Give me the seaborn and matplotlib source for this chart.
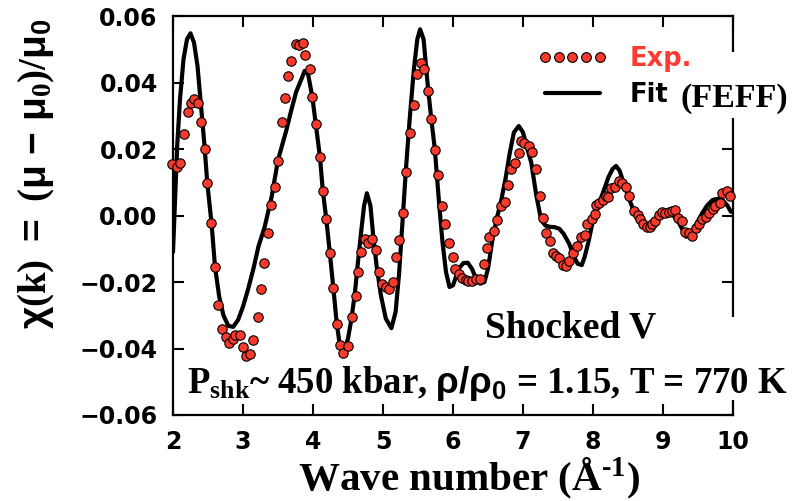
import matplotlib
matplotlib.use("Agg")
import numpy as np
import pandas as pd
import seaborn as sns
import matplotlib.pyplot as plt
from matplotlib.lines import Line2D
from matplotlib.patches import Rectangle

# ---- data ----
exp_k = [1.99, 2.05, 2.10, 2.16, 2.21, 2.26, 2.30, 2.35, 2.40, 2.45, 2.49, 2.55, 2.60, 2.65,
         2.70, 2.75, 2.80, 2.85, 2.89, 2.96, 3.00, 3.05, 3.10, 3.15, 3.21, 3.25, 3.30, 3.35,
         3.40, 3.45, 3.50, 3.55, 3.60, 3.64, 3.69, 3.75, 3.80, 3.85, 3.89, 3.95, 3.99, 4.04,
         4.10, 4.14, 4.19, 4.24, 4.29, 4.34, 4.38, 4.43, 4.50, 4.55, 4.61, 4.64, 4.69, 4.74,
         4.79, 4.84, 4.90, 4.94, 4.99, 5.04, 5.09, 5.14, 5.19, 5.23, 5.29, 5.33, 5.38, 5.44,
         5.49, 5.54, 5.59, 5.64, 5.69, 5.74, 5.78, 5.84, 5.89, 5.94, 6.00, 6.03, 6.08, 6.13,
         6.18, 6.22, 6.27, 6.33, 6.39, 6.44, 6.49, 6.52, 6.58, 6.63, 6.68, 6.74, 6.79, 6.83,
         6.88, 6.94, 6.97, 7.02, 7.08, 7.13, 7.19, 7.24, 7.28, 7.33, 7.38, 7.43, 7.47, 7.52,
         7.57, 7.62, 7.66, 7.71, 7.77, 7.83, 7.88, 7.91, 7.99, 8.03, 8.05, 8.09, 8.14, 8.19,
         8.22, 8.26, 8.31, 8.37, 8.42, 8.47, 8.52, 8.59, 8.64, 8.67, 8.72, 8.77, 8.81, 8.85,
         8.89, 8.94, 8.98, 9.03, 9.08, 9.13, 9.17, 9.22, 9.27, 9.31, 9.37, 9.42, 9.47, 9.51,
         9.56, 9.61, 9.66, 9.71, 9.75, 9.81, 9.85, 9.91, 9.96]
exp_chi = [0.0155, 0.0147, 0.0159, 0.0244, 0.0312, 0.0339, 0.0349, 0.0337, 0.0282, 0.0200,
           0.0097, -0.0022, -0.0154, -0.0269, -0.0342, -0.0366, -0.0382, -0.0372, -0.0359,
           -0.0359, -0.0395, -0.0423, -0.0417, -0.0374, -0.0304, -0.0222, -0.0143, -0.0052,
           0.0033, 0.0087, 0.0164, 0.0280, 0.0352, 0.0420, 0.0466, 0.0515, 0.0512, 0.0520,
           0.0483, 0.0440, 0.0357, 0.0275, 0.0175, 0.0075, -0.0011, -0.0112, -0.0217, -0.0326,
           -0.0389, -0.0413, -0.0392, -0.0306, -0.0242, -0.0169, -0.0109, -0.0072, -0.0082,
           -0.0072, -0.0104, -0.0169, -0.0206, -0.0214, -0.0222, -0.0199, -0.0126, -0.0074,
           0.0007, 0.0130, 0.0247, 0.0332, 0.0427, 0.0460, 0.0441, 0.0375, 0.0290, 0.0197,
           0.0122, 0.0029, -0.0026, -0.0082, -0.0126, -0.0162, -0.0176, -0.0189, -0.0194,
           -0.0196, -0.0196, -0.0192, -0.0192, -0.0147, -0.0099, -0.0064, -0.0046, -0.0014,
           0.0029, 0.0042, 0.0092, 0.0139, 0.0157, 0.0189, 0.0225, 0.0217, 0.0210, 0.0192,
           0.0139, 0.0059, -0.0008, -0.0054, -0.0076, -0.0112, -0.0122, -0.0129, -0.0149,
           -0.0152, -0.0136, -0.0113, -0.0092, -0.0064, -0.0059, -0.0026, -0.0011, 0.0005,
           0.0032, 0.0037, 0.0047, 0.0059, 0.0057, 0.0082, 0.0087, 0.0105, 0.0097, 0.0085,
           0.0059, 0.0014, 0.0002, -0.0011, -0.0026, -0.0034, -0.0035, -0.0026, -0.0016,
           0.0002, 0.0011, 0.0008, 0.0011, 0.0014, 0.0017, -0.0008, -0.0016, -0.0049, -0.0054,
           -0.0062, -0.0039, -0.0026, -0.0011, -0.0004, 0.0008, 0.0019, 0.0029, 0.0038, 0.0067,
           0.0075, 0.0059]

fit_k = [2.00, 2.03, 2.06, 2.10, 2.15, 2.20, 2.25, 2.30, 2.35, 2.40, 2.45, 2.49, 2.55, 2.60,
         2.66, 2.72, 2.79, 2.86, 2.93, 3.00, 3.07, 3.15, 3.22, 3.31, 3.41, 3.50, 3.62, 3.69,
         3.76, 3.84, 3.88, 3.93, 3.99, 4.04, 4.10, 4.14, 4.19, 4.24, 4.29, 4.34, 4.38, 4.42,
         4.46, 4.50, 4.55, 4.60, 4.64, 4.69, 4.73, 4.77, 4.82, 4.86, 4.91, 4.97, 5.04, 5.12,
         5.18, 5.23, 5.28, 5.33, 5.38, 5.44, 5.49, 5.53, 5.58, 5.64, 5.69, 5.74, 5.80, 5.85,
         5.90, 5.95, 6.00, 6.05, 6.10, 6.15, 6.21, 6.27, 6.33, 6.39, 6.45, 6.50, 6.57, 6.63,
         6.69, 6.75, 6.81, 6.87, 6.94, 7.00, 7.05, 7.12, 7.19, 7.26, 7.32, 7.38, 7.45, 7.52,
         7.58, 7.66, 7.72, 7.78, 7.84, 7.88, 7.94, 8.00, 8.07, 8.14, 8.22, 8.28, 8.33, 8.38,
         8.45, 8.52, 8.60, 8.69, 8.78, 8.87, 8.95, 9.02, 9.09, 9.16, 9.23, 9.33, 9.42, 9.49,
         9.56, 9.63, 9.71, 9.78, 9.85, 9.92, 9.97]
fit_chi = [-0.0110, 0.0050, 0.0210, 0.0350, 0.0470, 0.0530, 0.0548, 0.0520, 0.0450, 0.0330,
           0.0210, 0.0097, -0.0022, -0.0154, -0.0244, -0.0300, -0.0332, -0.0335, -0.0314,
           -0.0274, -0.0224, -0.0159, -0.0094, -0.0034, 0.0057, 0.0167, 0.0257, 0.0317,
           0.0372, 0.0413, 0.0435, 0.0425, 0.0357, 0.0275, 0.0175, 0.0075, -0.0011, -0.0112,
           -0.0217, -0.0326, -0.0385, -0.0405, -0.0395, -0.0370, -0.0310, -0.0230, -0.0145,
           -0.0045, 0.0030, 0.0067, 0.0030, -0.0060, -0.0154, -0.0240, -0.0310, -0.0339,
           -0.0290, -0.0174, -0.0014, 0.0146, 0.0287, 0.0437, 0.0530, 0.0560, 0.0530, 0.0390,
           0.0290, 0.0200, 0.0040, -0.0080, -0.0170, -0.0215, -0.0210, -0.0180, -0.0155,
           -0.0143, -0.0142, -0.0160, -0.0190, -0.0205, -0.0200, -0.0160, -0.0064, -0.0005,
           0.0047, 0.0110, 0.0187, 0.0250, 0.0269, 0.0250, 0.0210, 0.0157, 0.0060, -0.0014,
           -0.0030, -0.0034, -0.0035, -0.0040, -0.0055, -0.0085, -0.0120, -0.0145, -0.0149,
           -0.0125, -0.0075, -0.0014, 0.0030, 0.0067, 0.0115, 0.0140, 0.0149, 0.0135, 0.0090,
           0.0047, 0.0005, -0.0029, -0.0042, -0.0025, -0.0008, 0.0003, 0.0007, -0.0003,
           -0.0023, -0.0064, -0.0054, -0.0020, 0.0007, 0.0030, 0.0047, 0.0050, 0.0047, 0.0030,
           0.0011]

x_ticks = [2, 3, 4, 5, 6, 7, 8, 9, 10]
y_ticks = [-0.06, -0.04, -0.02, 0.00, 0.02, 0.04, 0.06]

legend_labels = ["Exp.", "Fit"]
fit_suffix = "(FEFF)"
label_x = r"Wave number (Å$^{\mathbf{\text{-}1}}$)"
label_y = (r"$\mathsf{\chi}\mathbf{(k)}\ \mathsf{=}\ \mathbf{(}\mathsf{\mu}\ \mathsf{-}\ "
           r"\mathsf{\mu}_{\mathbf{0}}\mathbf{)/}\mathsf{\mu}_{\mathsf{0}}$")
note_sample = "Shocked V"
note_cond = (r"P$_{\mathbf{shk}}$~ 450 kbar, $\mathsf{\rho/\rho_0}$ = 1.15, T = 770 K")

RED = "#f83a2c"

# ---- style ----
sns.set_theme(style="ticks")
plt.rcParams["font.family"] = ["Liberation Sans", "DejaVu Sans"]
plt.rcParams["mathtext.fontset"] = "custom"
plt.rcParams["mathtext.rm"] = "Liberation Serif:bold"
plt.rcParams["mathtext.bf"] = "Liberation Serif:bold"
plt.rcParams["mathtext.it"] = "Liberation Serif:bold"
plt.rcParams["mathtext.sf"] = "Liberation Sans:bold"
plt.rcParams["axes.unicode_minus"] = True

fig = plt.figure(figsize=(7.98, 5.01), dpi=100)
ax = fig.add_axes([173 / 798, 1 - 415 / 501, 560 / 798, 399 / 501])

fit_df = pd.DataFrame({"k": fit_k, "chi": fit_chi})
exp_df = pd.DataFrame({"k": exp_k, "chi": exp_chi})

sns.lineplot(data=fit_df, x="k", y="chi", sort=False, color="black", linewidth=3.0,
             ax=ax, zorder=2, legend=False)
sns.scatterplot(data=exp_df, x="k", y="chi", color=RED, edgecolor="black", linewidth=0.8,
                s=46, ax=ax, zorder=3, legend=False, clip_on=False)

ax.set_xlim(2, 10)
ax.set_ylim(-0.06, 0.06)
ax.set_xticks(x_ticks)
ax.set_yticks(y_ticks)
ax.set_xticklabels([str(t) for t in x_ticks])
ax.set_yticklabels([f"{t:.2f}".replace("-", "\u2212") for t in y_ticks])
ax.set_xlabel("")
ax.set_ylabel("")

for side in ["top", "right", "bottom", "left"]:
    ax.spines[side].set_visible(True)
    ax.spines[side].set_linewidth(1.6)
    ax.spines[side].set_color("black")

ax.tick_params(axis="both", which="major", direction="in", length=8, width=1.5,
               top=True, right=True, labeltop=False, labelright=False, color="black")
ax.tick_params(axis="y", pad=11)
ax.tick_params(axis="x", pad=11)
for lab in ax.get_xticklabels() + ax.get_yticklabels():
    lab.set_fontfamily("DejaVu Sans")
    lab.set_fontweight("bold")
    lab.set_fontsize(17)
    lab.set_color("black")

# white patches breaking the right spine behind the legend / notes
for y0, y1 in [((415 - 118) / 399, (415 - 52) / 399), ((415 - 400) / 399, (415 - 317) / 399)]:
    ax.add_patch(Rectangle((0.97, y0), 0.05, y1 - y0, transform=ax.transAxes,
                           facecolor="white", edgecolor="none", zorder=3.2, clip_on=False))

# legend
handles = [
    Line2D([], [], linestyle="none", marker="o", markersize=7, markerfacecolor=RED,
           markeredgecolor="black", markeredgewidth=0.8),
    Line2D([], [], color="black", linewidth=3.0),
]
leg = ax.legend(handles, legend_labels, loc="center left",
                bbox_to_anchor=(537 / 798, 1 - 77 / 501), bbox_transform=fig.transFigure,
                frameon=False, numpoints=5, handlelength=2.75, handletextpad=0.85,
                labelspacing=0.42, borderpad=0, borderaxespad=0,
                prop={"family": "DejaVu Sans", "weight": "bold", "size": 18.5})
leg.set_zorder(5)
leg.get_texts()[0].set_color("#ff3b30")
leg.get_texts()[1].set_color("black")

fig.text(680 / 798, 1 - 107 / 501, fit_suffix, family="Liberation Serif", weight="bold",
         fontsize=24.5, ha="left", va="baseline", color="black", zorder=6)

# notes
fig.text(485 / 798, 1 - 337 / 501, note_sample, family="Liberation Serif", weight="bold",
         fontsize=27, ha="left", va="baseline", color="black", zorder=6)
fig.text(187 / 798, 1 - 393 / 501, note_cond, family="Liberation Serif", weight="bold",
         fontsize=26.5, ha="left", va="baseline", color="black", zorder=6)

# axis labels
fig.text(469 / 798, 1 - 490 / 501, label_x, family="Liberation Serif", weight="bold",
         fontsize=29.5, ha="center", va="baseline", color="black")
fig.text(37 / 798, 1 - 174 / 501, label_y, rotation=90, fontsize=28, ha="center",
         va="center", color="black")

fig.savefig("out.png", dpi=100)
